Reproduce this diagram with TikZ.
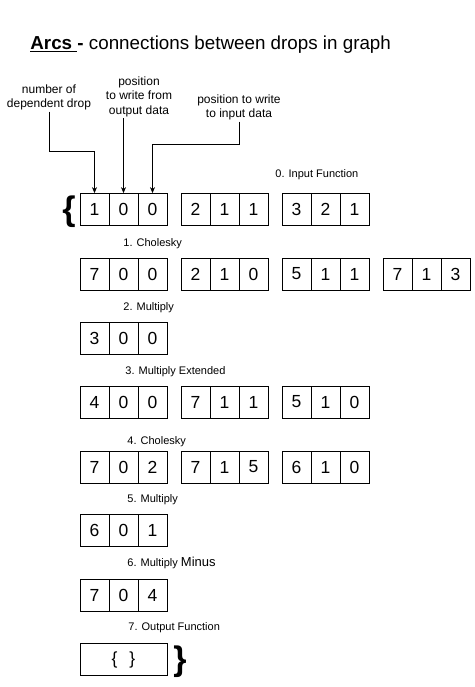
\documentclass[tikz,border=0pt]{standalone}
\usepackage{fontspec}
\setmainfont{Liberation Sans}
\usetikzlibrary{arrows.meta}

\begin{document}
\begin{tikzpicture}[x=1pt,y=-1pt,line width=0.8pt,
  cell/.style={draw,minimum width=29pt,minimum height=32pt,inner sep=0pt,font=\fontsize{17.5}{17.5}\selectfont},
  fname/.style={anchor=west,inner sep=0pt,font=\fontsize{11}{13}\selectfont},
  note/.style={align=center,inner sep=1pt,font=\fontsize{12}{14.5}\selectfont},
  bigbrace/.style={inner sep=0pt,font=\fontsize{34}{34}\selectfont\bfseries},
  pointer/.style={-{Stealth[length=6pt,width=5pt]},line width=0.7pt}]
\useasboundingbox (0,0) rectangle (474,687);

\node[anchor=west,inner sep=0pt,font=\fontsize{18.8}{20}\selectfont] (title) at (30,45)
  {\underline{\textbf{Arcs }}\textbf{-} connections between drops in graph};

\node[note] (numdrop) at (49,97.5) {number of\\dependent drop};
\node[note] (outpos) at (139,96.5) {position\\to write from\\output data};
\node[note] (inpos) at (239,107.5) {position to write\\to input data};

% 0. Input Function
\node[fname] (f0) at (275,175) {0. Input Function};
\node[bigbrace] (open) at (69,212) {\{};
\node[cell] (r0a1) at (94.5,209.5) {1};
\node[cell] (r0a2) at (123.5,209.5) {0};
\node[cell] (r0a3) at (152.5,209.5) {0};
\node[cell] (r0b1) at (195.5,209.5) {2};
\node[cell] (r0b2) at (224.5,209.5) {1};
\node[cell] (r0b3) at (253.5,209.5) {1};
\node[cell] (r0c1) at (296.5,209.5) {3};
\node[cell] (r0c2) at (325.5,209.5) {2};
\node[cell] (r0c3) at (354.5,209.5) {1};

% 1. Cholesky
\node[fname] (f1) at (123,244) {1. Cholesky};
\node[cell] (r1a1) at (94.5,274) {7};
\node[cell] (r1a2) at (123.5,274) {0};
\node[cell] (r1a3) at (152.5,274) {0};
\node[cell] (r1b1) at (195.5,274) {2};
\node[cell] (r1b2) at (224.5,274) {1};
\node[cell] (r1b3) at (253.5,274) {0};
\node[cell] (r1c1) at (296.5,274) {5};
\node[cell] (r1c2) at (325.5,274) {1};
\node[cell] (r1c3) at (354.5,274) {1};
\node[cell] (r1d1) at (397.5,274) {7};
\node[cell] (r1d2) at (426.5,274) {1};
\node[cell] (r1d3) at (455.5,274) {3};

% 2. Multiply
\node[fname] (f2) at (123,308) {2. Multiply};
\node[cell] (r2a1) at (94.5,338) {3};
\node[cell] (r2a2) at (123.5,338) {0};
\node[cell] (r2a3) at (152.5,338) {0};

% 3. Multiply Extended
\node[fname] (f3) at (125,372) {3. Multiply Extended};
\node[cell] (r3a1) at (94.5,402) {4};
\node[cell] (r3a2) at (123.5,402) {0};
\node[cell] (r3a3) at (152.5,402) {0};
\node[cell] (r3b1) at (195.5,402) {7};
\node[cell] (r3b2) at (224.5,402) {1};
\node[cell] (r3b3) at (253.5,402) {1};
\node[cell] (r3c1) at (296.5,402) {5};
\node[cell] (r3c2) at (325.5,402) {1};
\node[cell] (r3c3) at (354.5,402) {0};

% 4. Cholesky
\node[fname] (f4) at (127,442) {4. Cholesky};
\node[cell] (r4a1) at (94.5,467) {7};
\node[cell] (r4a2) at (123.5,467) {0};
\node[cell] (r4a3) at (152.5,467) {2};
\node[cell] (r4b1) at (195.5,467) {7};
\node[cell] (r4b2) at (224.5,467) {1};
\node[cell] (r4b3) at (253.5,467) {5};
\node[cell] (r4c1) at (296.5,467) {6};
\node[cell] (r4c2) at (325.5,467) {1};
\node[cell] (r4c3) at (354.5,467) {0};

% 5. Multiply
\node[fname] (f5) at (127,500) {5. Multiply};
\node[cell] (r5a1) at (94.5,530.5) {6};
\node[cell] (r5a2) at (123.5,530.5) {0};
\node[cell] (r5a3) at (152.5,530.5) {1};

% 6. Multiply Minus
\node[fname] (f6) at (127,563) {6. Multiply {\fontsize{13}{13}\selectfont Minus}};
\node[cell] (r6a1) at (94.5,595.5) {7};
\node[cell] (r6a2) at (123.5,595.5) {0};
\node[cell] (r6a3) at (152.5,595.5) {4};

% 7. Output Function
\node[fname] (f7) at (128,628) {7. Output Function};
\node[cell,minimum width=87pt] (r7a) at (123.5,659.5) {\{\hspace{12pt}\}};
\node[bigbrace] (close) at (180,662) {\}};

\draw[pointer] (numdrop.south) -- ++(0,40) -| (r0a1.north);
\draw[pointer] (r0a2.north |- outpos.south) -- (r0a2.north);
\draw[pointer] (inpos.south) -- ++(0,23) -| (r0a3.north);
\end{tikzpicture}
\end{document}
